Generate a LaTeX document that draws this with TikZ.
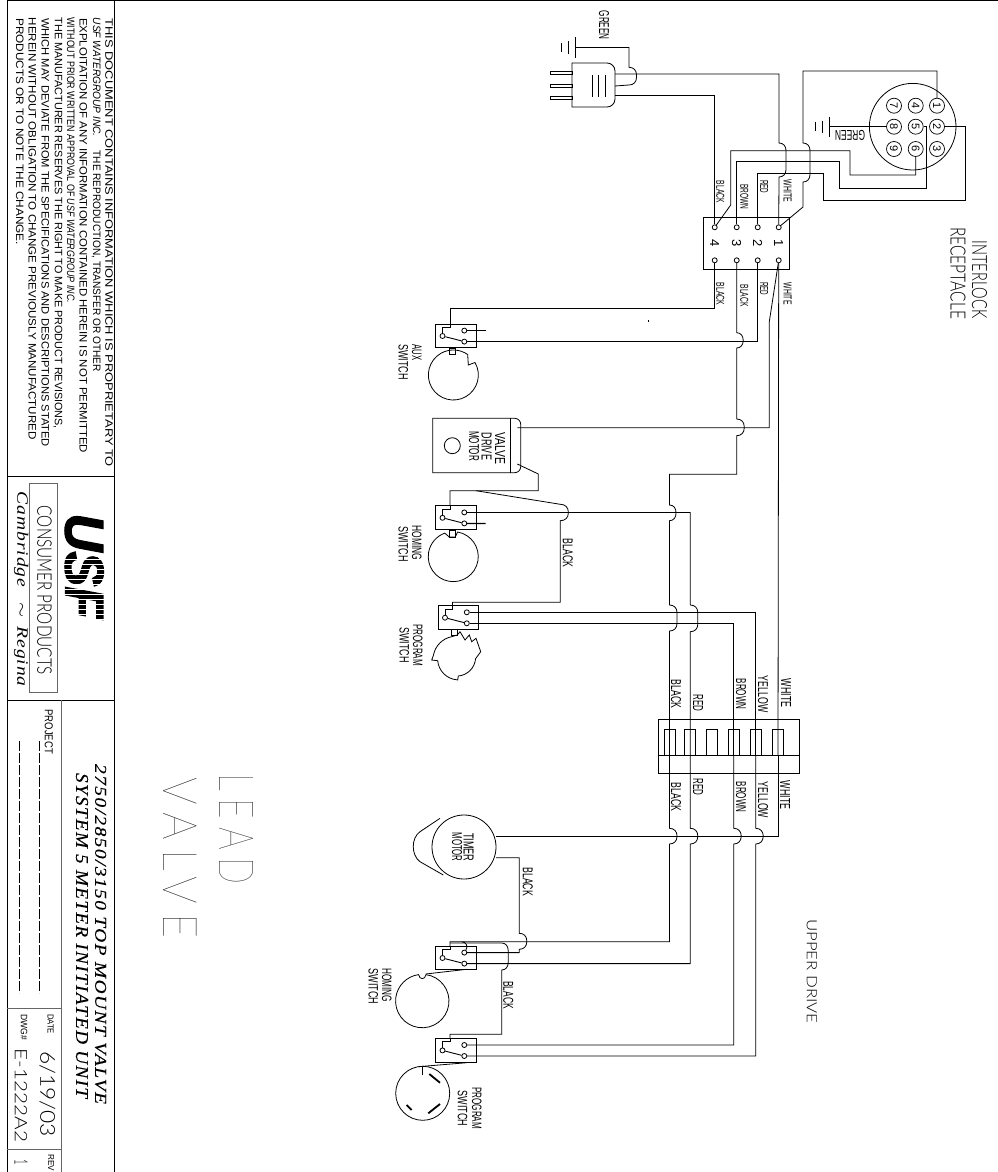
\documentclass[tikz,border=0pt]{standalone}
\usepackage{fontspec}
\usepackage{graphicx}
\setmainfont{Liberation Sans}
\newfontfamily\cad{Liberation Sans}
\newfontfamily\srf{Liberation Serif}
\newfontfamily\lite{Lato Light}
\newfontfamily\hair[LetterSpace=22]{Lato Thin}
\tikzset{
  wire/.style={draw=black,line width=0.8pt,line join=miter},
  part/.style={draw=black,line width=0.8pt},
  stub/.style={draw=black,line width=1.2pt},
  pn/.style={circle,draw=black,fill=white,line width=0.8pt,inner sep=0pt,minimum size=5pt},
  ipin/.style={circle,draw=black,line width=0.7pt,inner sep=0pt,minimum size=15pt},
  lbl/.style={inner sep=0pt,outer sep=0pt,rotate=-90},
  slot/.style={draw=black,line width=0.8pt,inner sep=0pt,minimum width=11pt,minimum height=25.7pt},
}
\newcommand\tx[7][\cad]{\node[lbl] (#2) at (#3,#4) {\resizebox{#5pt}{#6pt}{#1 #7}};}
\newcommand\hop[4]{-- (#1,#2) .. controls ({#1+0.6*#4},#2) and ({#1+#4},{#2+3}) .. ({#1+#4},{#2+7.5}) -- ({#1+#4},{#3-7.5}) .. controls ({#1+#4},{#3-3}) and ({#1+0.6*#4},#3) .. (#1,#3)}
\newcommand\swbox[3]{%
  \node[part,rectangle,minimum width=40.3pt,minimum height=23.7pt,inner sep=0pt,outer sep=0pt] (#1) at ({#2+20.15},{#3+11.85}) {};
  \node[pn] (#1c) at ({#2+6.8},{#3+12}) {};
  \node[pn] (#1t) at ({#2+28.6},{#3+6.6}) {};
  \node[pn] (#1b) at ({#2+28.6},{#3+17.6}) {};
  \coordinate (#1e) at ({#2+14.3},#3);
  \draw[wire] (#1e) -- ++(0,3.3) -- ++(-7.5,0) -- (#1c.north);
  \draw[wire,line width=0.9pt] (#1c) -- (#1b);
}
\newcommand\gnd[3]{%
  \draw[part] (#1,{#2-10}) -- (#1,{#2+10.5});
  \draw[part] ({#1-7},{#2-6}) -- ({#1-7},{#2+6.5});
  \draw[part] ({#1-14},{#2-4.5}) -- ({#1-14},{#2+4.5});
  \coordinate (#3) at (#1,#2);
}
\begin{document}
\begin{tikzpicture}[x=1pt,y=-1pt]
\useasboundingbox (0,0) rectangle (998,1172);
\fill[white] (0,0) rectangle (998,1172);

%% ---- title block
\draw[part,line width=1pt] (7.3,1172) -- (7.3,1) -- (998,1);
\draw[part,line width=1pt] (114.3,1) -- (114.3,1172);
\draw[part] (7.3,476) -- (114.3,476);
\draw[part] (7.3,700) -- (114.3,700);
\draw[part,draw=black!60] (61,700) -- (61,1172);
\draw[part,draw=black!60] (7.3,1008.3) -- (61,1008.3);
\draw[part,draw=black!60] (7.3,1149) -- (61,1149);
\node[part,rectangle,draw=black!60,minimum width=28pt,minimum height=209.4pt,inner sep=0pt] (cpbox) at (43.3,588) {};

\tx{d1}{109}{241}{452}{7.5}{THIS DOCUMENT CONTAINS INFORMATION WHICH IS PROPRIETARY TO}
\tx{d2}{96.3}{193.5}{357}{7.5}{\itshape USF WATERGROUP INC.\upshape\ \ \ \ \ THE REPRODUCTION, TRANSFER OR OTHER}
\tx{d3}{83.3}{234}{438}{7.5}{EXPLOITATION OF ANY INFORMATION CONTAINED HEREIN IS NOT PERMITTED}
\tx{d4}{70.7}{159}{288}{7.5}{WITHOUT PRIOR WRITTEN APPROVAL OF \itshape USF WATERGROUP INC.}
\tx{d5}{58}{222}{414}{7.5}{THE MANUFACTURER RESERVES THE RIGHT TO MAKE PRODUCT REVISIONS,}
\tx{d6}{45.3}{231}{432}{7.5}{WHICH MAY DEVIATE FROM THE SPECIFICATIONS AND DESCRIPTIONS STATED}
\tx{d7}{32.3}{227}{425}{7.5}{HEREIN WITHOUT OBLIGATION TO CHANGE PREVIOUSLY MANUFACTURED}
\tx{d8}{19.7}{130}{230}{7.5}{PRODUCTS OR TO NOTE THE CHANGE.}

\node[lbl] (logo) at (84.2,566) {\resizebox{105pt}{38pt}{\cad\bfseries\itshape\addfontfeature{FakeBold=2.5} USF}};
\foreach \yy in {559,564,...,619} {\draw[white,line width=1pt] (60,\yy) -- (108,\yy);}
\tx[\lite]{consumer}{44.5}{588.3}{173.3}{14.4}{CONSUMER PRODUCTS}
\node[inner sep=0pt,outer sep=0pt,rotate=-90,anchor=base] (camb) at (17.3,589.2) {\resizebox{195pt}{11pt}{\srf\itshape\addfontfeature{LetterSpace=5} Cambridge ~\,$\sim$\, Regina}};

\tx{project}{48.7}{730.5}{47}{8}{PROJECT}
\coordinate (da) at (39.3,741); \coordinate (db) at (39.3,993);
\coordinate (dc) at (19.3,741); \coordinate (dd) at (19.3,993);
\draw[part,dash pattern=on 10pt off 2pt] (da) -- (db);
\draw[part,dash pattern=on 10pt off 2pt] (dc) -- (dd);
\tx[\srf\itshape\addfontfeature{LetterSpace=7,FakeBold=0.15}]{title1}{100.6}{934}{340}{11}{2750/2850/3150 TOP MOUNT VALVE}
\tx[\srf\itshape\addfontfeature{LetterSpace=7,FakeBold=0.15}]{title2}{82}{935.5}{325}{12}{SYSTEM 5 METER INITIATED UNIT}
\tx{date}{50.5}{1023}{22}{6}{DATE}
\tx[\lite]{dateval}{47.5}{1091}{92}{15}{6/19/03}
\tx{dwg}{24}{1026}{28}{6.5}{DWG\#}
\tx[\lite]{dwgval}{21}{1092.5}{99}{12.3}{E-1222A2}
\tx{rev}{51}{1161.5}{19}{6}{REV}
\tx[\lite]{revval}{21}{1161}{8}{13}{1}

\tx[\hair]{lead}{236}{820}{129}{34}{LEAD}
\tx[\hair]{valve}{180}{847.5}{183}{33.4}{VALVE}

%% ---- interlock receptacle
\node[part,circle,minimum size=86.6pt,inner sep=0pt] (recept) at (912.7,126.7) {};
\foreach \nm/\xx/\yy in {1/937/105.7,4/915.7/105.7,7/894/105.7,2/937/126.7,5/915.7/126.7,8/894/126.7,3/937/149,6/915.7/149,9/894/149}
  {\node[ipin,rotate=-90,font=\cad\fontsize{11}{11}\selectfont] (p\nm) at (\xx,\yy) {\nm};}
\gnd{829}{126.7}{g2}
\draw[wire] (g2) -- (p8);
\node[inner sep=0pt,outer sep=0pt,rotate=180] (gr2) at (850,135.7) {\resizebox{30pt}{10pt}{\cad GREEN}};
\tx[\lite]{intl}{979.5}{277.5}{81.7}{15}{INTERLOCK}
\tx[\lite]{recp}{958}{271}{96}{15}{RECEPTACLE}

%% ---- plug
\gnd{575}{47.5}{g1}
\draw[part] (572,63) -- (607,63) arc[start angle=270,end angle=360,radius=8] -- (615,99) arc[start angle=0,end angle=90,radius=8] -- (572,107) -- cycle;
\foreach \yy in {73,86,98} {\draw[part] (550,{\yy-1.3}) rectangle (572,{\yy+1.3});}
\foreach \xx in {592,598,605} {\draw[part] (\xx,75) -- (\xx,97);}
\coordinate (pw) at (615,74); \coordinate (pg) at (615,86); \coordinate (pb) at (615,95);
\tx{gr1}{604}{24}{31}{10}{GREEN}

%% ---- terminal block
\node[part,rectangle,minimum width=86pt,minimum height=52pt,inner sep=0pt,outer sep=0pt] (tb) at (746.3,243.3) {};
\foreach \nm/\xx in {4/714.7,3/736.7,2/757.7,1/778.7}{
  \node[pn] (t\nm a) at (\xx,227.3) {};
  \node[pn] (t\nm b) at (\xx,260.3) {};
  \node[lbl,font=\cad\fontsize{13}{13}\selectfont] (tn\nm) at (\xx,243) {\nm};
}
\tx{lb1}{720.3}{191}{24}{8}{BLACK}
\tx{lb2}{744.2}{196}{26.7}{8}{BROWN}
\tx{lb3}{764.2}{186}{15}{8}{RED}
\tx{lb4}{787.5}{190}{24.3}{8}{WHITE}
\tx{lb5}{720.3}{293}{24.3}{8}{BLACK}
\tx{lb6}{744.2}{294.7}{24}{8}{BLACK}
\tx{lb7}{764.2}{288}{15}{8}{RED}
\tx{lb8}{787.5}{292.7}{24}{8}{WHITE}

\draw[wire] (g1) -- (629,47.5) \hop{629}{67.3}{85}{7.5} -- (pg);
\draw[wire] (pw) -- (779,74) \hop{779}{143}{177}{7} -- (t1a);
\draw[wire] (pb) -- (t4a |- pb) -- (t4a);
\draw[wire] (p1) -- (937,71) -- (803,71) \hop{803}{143}{182}{7} -- (803,207) -- (t1a);
\draw[wire] (p6) -- (915.7,175) -- (850,175) -- (850,150.7) -- (730.7,150.7) -- (730.7,205) -- (t4a);
\draw[wire] (p5) -- (926.7,126.7) -- (926.7,188.7) -- (839.3,188.7) -- (839.3,161.3) -- (736.7,161.3) -- (t3a);
\draw[wire] (p2) -- (965.7,126.7) -- (965.7,200.7) -- (823.3,200.7) -- (823.3,173.3) -- (t2a |- 0,173.3) -- (t2a);

%% ---- aux switch
\swbox{swa}{435.7}{324}
\node[part,rectangle,minimum width=6pt,minimum height=6pt,inner sep=0pt] (sha) at (452.3,351) {};
\draw[part] (475,362.5) arc[start angle=-30,end angle=305,radius=25] -- (468.3,365) -- cycle;
\draw[stub] (swat) -- (485.7,330.6);
\tx{aux1}{416.7}{351.5}{18}{9.5}{AUX}
\tx{aux2}{403.3}{360.8}{38}{9.5}{SWITCH}
\draw[fill=black,draw=none] (647.8,320) rectangle (649,322);

%% ---- valve motor
\draw[part] (432.7,418.3) -- (514.7,418.3) arc[start angle=270,end angle=360,radius=6] -- (520.7,466.7) arc[start angle=0,end angle=90,radius=6] -- (432.7,472.7) -- cycle;
\draw[part] (510.7,418.3) -- (510.7,472.7);
\node[part,circle,minimum size=16pt,inner sep=0pt] (vmc) at (452.3,445.7) {};
\tx{vm3}{500}{446.6}{35}{10}{VALVE}
\tx{vm4}{486.7}{445}{30}{10}{DRIVE}
\tx{vm5}{474}{445}{32}{10}{MOTOR}
\coordinate (vm1) at (517.3,427.7);
\coordinate (vm2) at (517.3,464);

%% ---- homing switch (upper)
\swbox{swh}{435.7}{505.8}
\node[part,rectangle,minimum width=6pt,minimum height=7pt,inner sep=0pt] (shh) at (452.3,533.5) {};
\draw[part] (457.6,532) arc[start angle=280,end angle=610,radius=25] -- (449.3,537) -- (455.3,537) -- cycle;
\draw[stub] (swhb) -- (485.7,523.4);
\tx{hm1}{416.7}{541.7}{37}{9.5}{HOMING}
\tx{hm2}{403.3}{542.5}{38}{9.5}{SWITCH}
\tx{hm3}{567.7}{552}{31}{10}{BLACK}
\coordinate (j1) at (476,490.7);

%% ---- program switch (upper)
\swbox{swp}{438.2}{605.7}
\node[part,rectangle,minimum width=6pt,minimum height=6pt,inner sep=0pt] (shp) at (454.7,632) {};
\draw[part] (451.7,636.7) arc[start angle=259,end angle=190,radius=23] -- (431.7,660) -- (437.7,660.7)
  arc[start angle=175,end angle=95,radius=21] -- (457.7,680) -- (458.3,676)
  arc[start angle=85,end angle=5,radius=19] -- (480.7,651.7) -- (476,638.3) -- (471.7,641.7) -- (469.3,635) -- (465,640) -- (460,631.7) -- (457.3,635) -- cycle;
\tx{pr1}{417.7}{644}{44}{9.5}{PROGRAM}
\tx{pr2}{404.3}{643.5}{38}{9.5}{SWITCH}

%% ---- connector
\node[part,rectangle,minimum width=141pt,minimum height=54.3pt,inner sep=0pt,outer sep=0pt] (conn) at (728.8,746.2) {};
\draw[part] (conn.west |- 0,755) -- (conn.east |- 0,755);
\foreach \nm/\xx in {1/669.5,2/690.3,3/712,4/733.7,5/755.7,6/778}
  {\node[slot] (s\nm) at (\xx,742.15) {};}
\tx{c1}{676}{693}{31}{10}{BLACK}
\tx{c2}{698}{702}{19}{10}{RED}
\tx{c3}{741}{693}{33}{10}{BROWN}
\tx{c4}{763}{693}{39}{10}{YELLOW}
\tx{c5}{786}{692}{31}{10}{WHITE}
\tx{c6}{676}{796}{31}{10}{BLACK}
\tx{c7}{698}{786}{19}{10}{RED}
\tx{c8}{741}{796}{33}{10}{BROWN}
\tx{c9}{763}{798.7}{39}{10}{YELLOW}
\tx{c10}{785}{794}{31}{10}{WHITE}
\tx[\lite]{upper}{811.7}{969}{109}{10}{UPPER DRIVE}

%% ---- wires from the terminal block to the lead valve
\draw[wire] (t4b) -- (t4b |- 0,308.3) -- (450,308.3) -- (swae);
\draw[wire] (t3b) \hop{736.7}{332.7}{348}{6.5} \hop{736.7}{419}{435.7}{7.5} -- (736.7,474.3) -- (669.5,474.3) \hop{669.5}{505}{520.7}{6.5} \hop{669.5}{605}{631}{7.5} -- (s1.south);
\draw[wire] (t2b) -- (t2b |- swab) -- (swab);
\draw[wire] (t1b) -- (769.3,321.7) -- (769.3,427.7) -- (vm1);
\draw[wire] (t1b) -- (s6.south);
\draw[wire] (vm2) -- (538.3,474) -- (538.3,490.7) -- (450,490.7) -- (swhe);
\draw[wire] (j1) -- (560.3,504.3) \hop{560.3}{504.3}{520.7}{8} -- (560.3,602.3) -- (452.5,602.3) -- (swpe);
\draw[wire] (swht) -- (s2.south |- swht) \hop{690.3}{605}{631.7}{7.5} -- (s2.south);
\draw[wire] (swpt) -- (s5.south |- swpt) -- (s5.south);
\draw[wire] (swpb) -- (s4.south |- swpb) -- (s4.south);

%% ---- timer motor and lower switches
\node[part,circle,minimum size=64pt,inner sep=0pt] (tm) at (464,847) {};
\draw[part] (440,818.3) -- (420,831.7) .. controls (411,838) and (411,855) .. (420,861.7) -- (443.3,875);
\tx{tm3}{468.7}{846}{31}{10}{TIMER}
\tx{tm4}{457}{846}{31}{10}{MOTOR}
\coordinate (tm1) at (496,836);
\coordinate (tm2) at (496,857.7);
\swbox{swk}{435.7}{946}
\swbox{swl}{435.7}{1038.4}
\draw[stub] (swkt) -- (485.7,952.6);
\draw[stub] (swkb) -- (485.7,963.6);
\coordinate (j2) at (450,943);
\coordinate (j3) at (461.7,941.7);
\draw[wire] (j3) .. controls (466,942) and (468.5,946) .. (swkt);
\draw[wire] (s6.south) -- (778,836) -- (tm1);
\draw[wire] (s1.south) \hop{669.5}{828.3}{844}{7.5} -- (669.5,941.7) -- (450,941.7) -- (swke);
\draw[wire] (s2.south) \hop{690.3}{828.3}{844}{7.5} -- (swkb -| s2.south) -- (swkb);
\draw[wire] (s4.south) \hop{733.7}{828.3}{844}{7.5} -- (swlt -| s4.south) -- (swlt);
\draw[wire] (s5.south) \hop{755.7}{828.3}{844}{7.5} -- (swlb -| s5.south) -- (swlb);
\draw[wire] (tm2) -- (519.3,857.7) \hop{519.3}{933.3}{949.3}{7.5} -- (519.3,952.6) -- (swkt);
\draw[wire] (j2) -- (501.7,943) \hop{501.7}{943}{970}{6.5} -- (501.7,1034.3) -- (450,1034.3) -- (swle);
\tx{tm5}{527.7}{880.5}{31}{10}{BLACK}
\tx{tm6}{508.3}{994}{30}{10}{BLACK}

%% lower homing cam
\draw[part] (426,974.6) arc[start angle=278,end angle=622,radius=26.7] .. controls (419.5,980) and (425,980) .. (426,974.6);
\draw[part] (425.7,974) -- (466.7,969.3);
\tx{hl1}{386.7}{984}{36}{9.5}{HOMING}
\tx{hl2}{373.3}{985}{38}{9.5}{SWITCH}

%% lower program cam
\node[part,circle,minimum size=54pt,inner sep=0pt] (cpl) at (422.7,1093.3) {};
\draw[part] (418.3,1066.7) -- (466.7,1062.7);
\draw[part] (422.3,1067) -- (422.3,1075);
\draw[line width=1.8pt,draw=black] (429.3,1074) -- (440,1082.7);
\draw[line width=1.8pt,draw=black] (428.3,1113.3) -- (440,1104);
\draw[line width=1.8pt,draw=black] (406.7,1105) -- (411.7,1110);
\tx{pl1}{476.7}{1107}{44}{9.5}{PROGRAM}
\tx{pl2}{462.5}{1107}{38}{9.5}{SWITCH}
\end{tikzpicture}
\end{document}
